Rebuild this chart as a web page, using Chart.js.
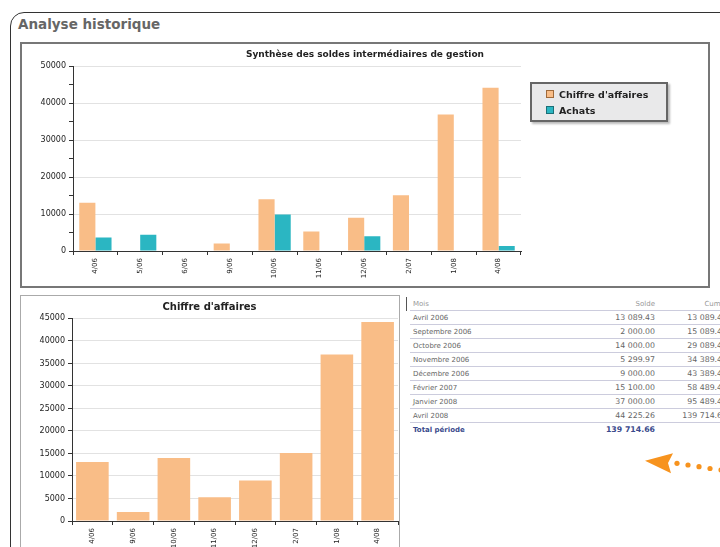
<!DOCTYPE html>
<html>
<head>
<meta charset="utf-8">
<script src="https://cdn.jsdelivr.net/npm/chart.js"></script>
<style>
    body { margin: 0; width: 720px; height: 547px; overflow: hidden; background: #fff; position: relative;
           font-family: "DejaVu Sans", Verdana, sans-serif; }
    #cadre { position: absolute; left: 10px; top: 12px; width: 740px; height: 580px;
             border: 1.5px solid #333; border-radius: 14px; }
    h1 { position: absolute; left: 18px; top: 16px; margin: 0; font-size: 13.5px; font-weight: bold; color: #666; }
    #p1 { position: absolute; left: 20px; top: 42px; width: 686px; height: 242px; border: 2px solid #777; background: #fff; }
    #p2 { position: absolute; left: 20px; top: 295px; width: 378px; height: 262px; border: 1px solid #aaa; background: #fff; }
    .wrap { position: absolute; left: 0; top: 0; }
    #legende { position: absolute; left: 530px; top: 82px; width: 134px; height: 36px; background: #e9e9ea;
               border: 2px solid #666; box-shadow: 2px 2px 2px #bbb; font-size: 9.5px; color: #222; }
    #legende div { position: absolute; left: 14px; white-space: nowrap; font-weight: bold; line-height: 10px; }
    #legende span { display: inline-block; width: 6px; height: 6px; margin-right: 5px; vertical-align: 0; }
    #tableau { position: absolute; left: 410px; top: 297px; width: 320px; border-collapse: collapse;
               table-layout: fixed; font-size: 7px; color: #666; }
    #tableau td { height: 13px; padding: 0 3px; border-bottom: 1px solid #ccd; white-space: nowrap; overflow: hidden; }
    #tableau td.n { text-align: right; font-size: 7.8px; }
    #tableau tr.entete td { color: #999; font-size: 7px; }
    #tableau tr.total td { color: #3a4a8c; font-weight: bold; border-bottom: none; }
    #coin { position: absolute; left: 403px; top: 297px; width: 3px; height: 14px; border-right: 1.5px solid #555; }
    #fleche { position: absolute; left: 640px; top: 450px; }
</style>
</head>
<body>
<div id="cadre"></div>
<h1>Analyse historique</h1>

<div id="p1"><div class="wrap" style="width:686px;height:242px"><canvas id="synthese"></canvas></div></div>
<div id="legende"></div>

<div id="p2"><div class="wrap" style="width:378px;height:260px"><canvas id="chiffre"></canvas></div></div>

<div id="coin"></div>
<table id="tableau">
    <colgroup><col style="width:173px"><col style="width:75px"><col style="width:72px"></colgroup>
    <tbody id="lignes"></tbody>
</table>

<svg id="fleche" width="84" height="30">
    <polygon points="5,10.7 33,3.3 28,13 31,23.3" fill="#f7931e"/>
    <circle cx="37" cy="13.3" r="2.6" fill="#f7931e"/>
    <circle cx="48" cy="15" r="2.6" fill="#f7931e"/>
    <circle cx="59" cy="16.7" r="2.6" fill="#f7931e"/>
    <circle cx="70" cy="18.5" r="2.6" fill="#f7931e"/>
    <circle cx="81" cy="20" r="2.6" fill="#f7931e"/>
</svg>

<script>
    // données
    const moisSynthese = ['4/06', '5/06', '6/06', '9/06', '10/06', '11/06', '12/06', '2/07', '1/08', '4/08'];
    const caSynthese = [13089.43, 0, 0, 2000, 14000, 5299.97, 9000, 15100, 37000, 44225.26];
    const achatsSynthese = [3660, 4380, 0, 0, 9900, 0, 4000, 0, 0, 1340];

    const moisCA = ['4/06', '9/06', '10/06', '11/06', '12/06', '2/07', '1/08', '4/08'];
    const valeursCA = [13089.43, 2000, 14000, 5299.97, 9000, 15100, 37000, 44225.26];

    const moisTableau = ['Avril 2006', 'Septembre 2006', 'Octobre 2006', 'Novembre 2006',
                         'Décembre 2006', 'Février 2007', 'Janvier 2008', 'Avril 2008'];

    const orange = '#f9bd87';
    const turquoise = '#2bb6c2';

    Chart.defaults.font.family = '"DejaVu Sans", Verdana, sans-serif';
    Chart.defaults.font.size = 7;
    Chart.defaults.color = '#222';
    Chart.defaults.animation = false;

    const axeY = (max, pas, majeur) => ({
        min: 0, max: max,
        afterFit: s => { s.width = 51; },
        border: { color: '#333' },
        grid: {
            color: ctx => (ctx.tick && ctx.tick.value % majeur === 0 && ctx.tick.value > 0) ? '#e2e2e2' : 'transparent',
            tickColor: '#333', tickLength: 4
        },
        ticks: { stepSize: pas, autoSkip: false, padding: 3, font: { size: 8 },
                 callback: v => (v % majeur === 0 ? v : '') }
    });

    const axeX = {
        afterFit: s => { s.height = 35; },
        border: { color: '#333' },
        grid: { drawOnChartArea: false, offset: true, tickColor: '#333', tickLength: 4 },
        ticks: { minRotation: 90, maxRotation: 90, autoSkip: false, padding: 3 }
    };

    // graphique du haut
    new Chart(document.getElementById('synthese'), {
        type: 'bar',
        data: {
            labels: moisSynthese,
            datasets: [
                { label: "Chiffre d'affaires", data: caSynthese, backgroundColor: orange },
                { label: 'Achats', data: achatsSynthese, backgroundColor: turquoise }
            ]
        },
        options: {
            responsive: true, maintainAspectRatio: false,
            categoryPercentage: 0.72, barPercentage: 1,
            layout: { padding: 0 },
            plugins: {
                legend: { display: false },
                tooltip: { enabled: false },
                title: { display: true, text: 'Synthèse des soldes intermédiaires de gestion',
                         font: { size: 9, weight: 'bold' }, padding: { top: 5, bottom: 6.6 } }
            },
            scales: {
                x: axeX,
                y: axeY(50000, 5000, 10000),
                yr: { position: 'right', display: true, grid: { display: false }, border: { display: false },
                      ticks: { display: false }, afterFit: s => { s.width = 187; } }
            }
        }
    });

    // légende HTML
    const legende = document.getElementById('legende');
    [["Chiffre d'affaires", orange, '#a06a3a'], ['Achats', turquoise, '#1b6f77']].forEach((l, i) => {
        const d = document.createElement('div');
        d.style.top = (6 + i * 16) + 'px';
        d.innerHTML = '<span style="background:' + l[1] + ';border:1px solid ' + l[2] + '"></span>' + l[0];
        legende.appendChild(d);
    });

    // graphique du bas
    new Chart(document.getElementById('chiffre'), {
        type: 'bar',
        data: {
            labels: moisCA,
            datasets: [{ label: "Chiffre d'affaires", data: valeursCA, backgroundColor: orange }]
        },
        options: {
            responsive: true, maintainAspectRatio: false,
            categoryPercentage: 0.8, barPercentage: 1,
            layout: { padding: { right: 1 } },
            plugins: {
                legend: { display: false },
                tooltip: { enabled: false },
                title: { display: true, text: "Chiffre d'affaires",
                         font: { size: 10, weight: 'bold' }, padding: { top: 5, bottom: 5.4 } }
            },
            scales: {
                x: axeX,
                y: axeY(45000, 5000, 5000)
            }
        }
    });

    // tableau
    const fmt = v => v.toFixed(2).replace(/\B(?=(\d{3})+(?!\d))/g, ' ');
    let html = '<tr class="entete"><td>Mois</td><td class="n">Solde</td><td class="n">Cumul</td></tr>';
    let cumul = 0;
    moisTableau.forEach((m, i) => {
        cumul += valeursCA[i];
        html += '<tr><td>' + m + '</td><td class="n">' + fmt(valeursCA[i]) + '</td><td class="n">' + fmt(cumul) + '</td></tr>';
    });
    html += '<tr class="total"><td>Total période</td><td class="n">' + fmt(cumul) + '</td><td></td></tr>';
    document.getElementById('lignes').innerHTML = html;
</script>
</body>
</html>
